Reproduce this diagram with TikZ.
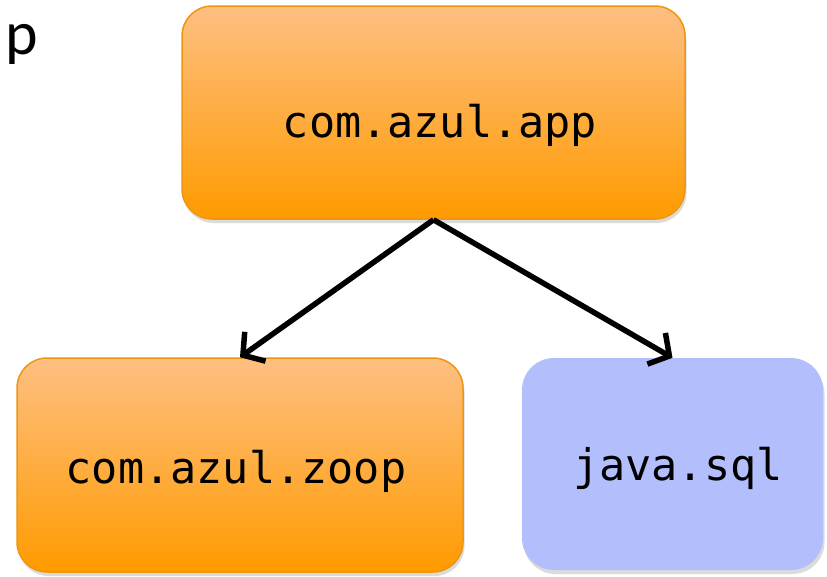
\documentclass[tikz,border=0pt]{standalone}
\usepackage{fontspec}
\newfontfamily\monof{DejaVu Sans Mono}
\newfontfamily\carl{Carlito}
\usetikzlibrary{arrows.meta,shadows}
\definecolor{orborder}{RGB}{238,150,20}
\definecolor{ortop}{RGB}{253,191,130}
\definecolor{orbot}{RGB}{255,155,0}
\definecolor{bluebox}{RGB}{179,190,252}
\tikzset{
  boxshadow/.style={drop shadow={opacity=0.28,shadow xshift=1.5pt,shadow yshift=-4pt}},
  orbox/.style={rectangle,rounded corners=30pt,draw=orborder,line width=1.5pt,
    top color=ortop,bottom color=orbot,inner sep=0pt,boxshadow},
  bluebx/.style={rectangle,rounded corners=32pt,fill=bluebox,draw=none,inner sep=0pt,boxshadow},
  lbl/.style={inner sep=0pt,anchor=base,font=\monof\fontsize{43.5}{50}\selectfont},
  dep/.style={line width=5.5pt,-{Straight Barb[length=15pt,width=36pt]}}
}
\begin{document}
\begin{tikzpicture}[x=1pt,y=1pt]
\useasboundingbox[fill=white] (0,0) rectangle (827,-576);
\node[inner sep=0pt,anchor=base west,font=\carl\fontsize{62}{70}\selectfont] (p) at (5,-54) {p};
\node[orbox,minimum width=503pt,minimum height=213pt] (app) at (433.5,-112.5) {};
\node[orbox,minimum width=446pt,minimum height=214pt] (zoop) at (240,-465) {};
\node[bluebx,minimum width=301pt,minimum height=212pt] (sql) at (672.5,-464) {};
\node[lbl] (tapp) at (440,-137) {com.azul.app};
\node[lbl] (tzoop) at (236,-483) {com.azul.zoop};
\node[lbl] (tsql) at (678,-480) {java.sql};
\draw[dep] (app.south) -- (zoop.north);
\draw[dep] (app.south) -- (sql.north);
\end{tikzpicture}
\end{document}
